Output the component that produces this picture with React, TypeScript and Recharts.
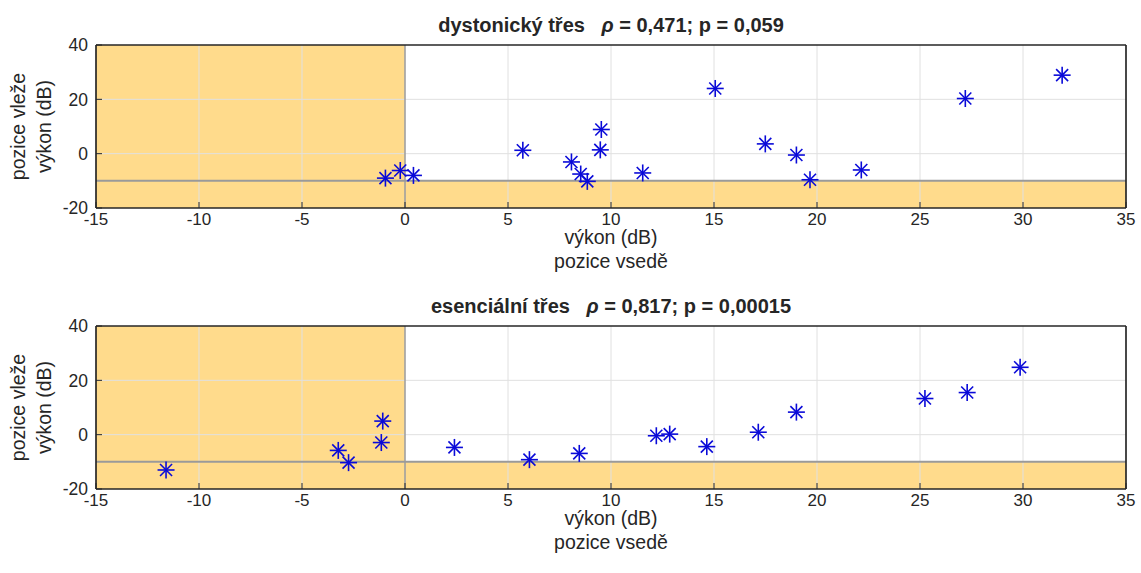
import {
	ScatterChart,
	Scatter,
	XAxis,
	YAxis,
	ReferenceArea,
	ReferenceLine,
	Label,
} from "recharts"

const xTicks = [-15, -10, -5, 0, 5, 10, 15, 20, 25, 30, 35]
const yTicks = [-20, 0, 20, 40]

const dystonicX = [-0.95, -0.23, 0.41, 5.72, 8.08, 8.53, 8.85, 9.53, 9.48, 11.54, 15.06, 17.49, 19.0, 19.66, 22.15, 27.2, 31.9]
const dystonicY = [-9.0, -6.2, -8.0, 1.25, -3.05, -7.5, -10.2, 8.9, 1.4, -7.1, 24.0, 3.6, -0.5, -9.6, -6.0, 20.3, 28.9]

const essentialX = [-11.6, -3.24, -2.74, -1.08, -1.15, 2.4, 6.04, 8.46, 12.2, 12.85, 14.65, 17.15, 19.0, 25.24, 27.29, 29.86]
const essentialY = [-13.0, -5.8, -10.3, 5.0, -2.9, -4.7, -9.2, -6.9, -0.4, 0.2, -4.4, 0.9, 8.3, 13.3, 15.5, 24.8]

const font = "'Liberation Sans', Arial, sans-serif"
const ink = "#262626"
const shade = "#FFDB8C"
const gridColor = "#e0e0e0"
const blue = "#0a0ad8"

const Asterisk = (props: any) => {
	const { cx, cy } = props
	if (cx == null || cy == null) return null
	const r = 8.5
	const d = 6
	return (
		<g stroke={blue} strokeWidth={1.6}>
			<line x1={cx - r} y1={cy} x2={cx + r} y2={cy} />
			<line x1={cx} y1={cy - r} x2={cx} y2={cy + r} />
			<line x1={cx - d} y1={cy - d} x2={cx + d} y2={cy + d} />
			<line x1={cx - d} y1={cy + d} x2={cx + d} y2={cy - d} />
		</g>
	)
}

const XLabel = (props: any) => {
	const vb = props.viewBox || {}
	const cx = vb.x + vb.width / 2
	return (
		<g fontFamily={font} fontSize={19.5} fill={ink} textAnchor="middle">
			<text x={cx} y={vb.y + 36}>výkon (dB)</text>
			<text x={cx} y={vb.y + 60}>pozice vsedě</text>
		</g>
	)
}

const YLabel = (props: any) => {
	const vb = props.viewBox || {}
	const cy = vb.y + vb.height / 2
	return (
		<g fontFamily={font} fontSize={19.5} fill={ink} textAnchor="middle">
			<text x={25} y={cy} transform={`rotate(-90 25 ${cy})`}>pozice vleže</text>
			<text x={51} y={cy} transform={`rotate(-90 51 ${cy})`}>výkon (dB)</text>
		</g>
	)
}

type PanelProps = {
	xs: number[]
	ys: number[]
	name: string
	rho: string
	p: string
	height: number
}

const Panel = ({ xs, ys, name, rho, p, height }: PanelProps) => {
	const points = xs.map((x, i) => ({ x, y: ys[i] }))
	return (
		<div style={{ position: "relative", width: 1141, height }}>
			<div
				style={{
					position: "absolute",
					left: 96,
					width: 1030,
					top: 14,
					height: 22,
					lineHeight: "22px",
					textAlign: "center",
					fontFamily: font,
					fontSize: 20,
					fontWeight: "bold",
					color: ink,
					whiteSpace: "pre",
				}}
			>
				{name}
				{"   "}
				<i>ρ</i>
				{` = ${rho}; p = ${p}`}
			</div>
			<ScatterChart
				width={1141}
				height={height}
				margin={{ top: 44, right: 14, bottom: 0, left: 0 }}
			>
				<ReferenceArea x1={-15} x2={0} y1={-20} y2={40} fill={shade} fillOpacity={1} stroke="none" />
				<ReferenceArea x1={0} x2={35} y1={-20} y2={-10} fill={shade} fillOpacity={1} stroke="none" />
				{xTicks.slice(1, -1).map((t) => (
					<ReferenceLine key={"gx" + t} x={t} stroke={gridColor} strokeWidth={1} />
				))}
				{yTicks.slice(1, -1).map((t) => (
					<ReferenceLine key={"gy" + t} y={t} stroke={gridColor} strokeWidth={1} />
				))}
				<ReferenceLine x={0} stroke="#8a8a8a" strokeWidth={1.2} />
				<ReferenceLine y={-10} stroke="#9a9a9a" strokeWidth={2} />
				<ReferenceLine x={-15} stroke={ink} strokeWidth={1.2} />
				<ReferenceLine x={35} stroke={ink} strokeWidth={1.2} />
				<ReferenceLine y={-20} stroke={ink} strokeWidth={1.2} />
				<ReferenceLine y={40} stroke={ink} strokeWidth={1.2} />
				<XAxis
					dataKey="x"
					type="number"
					domain={[-15, 35]}
					ticks={xTicks}
					allowDataOverflow
					height={height - 208}
					axisLine={{ stroke: ink, strokeWidth: 1.2 }}
					tickLine={{ stroke: ink }}
					tickSize={-6}
					tickMargin={11}
					fontSize={17}
					tick={{ fill: ink, fontSize: 17, fontFamily: font }}
				>
					<Label content={<XLabel />} />
				</XAxis>
				<XAxis
					xAxisId="top"
					orientation="top"
					dataKey="x"
					type="number"
					domain={[-15, 35]}
					ticks={xTicks}
					height={1}
					axisLine={{ stroke: ink, strokeWidth: 1.2 }}
					tickLine={{ stroke: ink }}
					tickSize={-6}
					tick={false}
				/>
				<YAxis
					dataKey="y"
					type="number"
					domain={[-20, 40]}
					ticks={yTicks}
					allowDataOverflow
					width={96}
					axisLine={{ stroke: ink, strokeWidth: 1.2 }}
					tickLine={{ stroke: ink }}
					tickSize={-6}
					tickMargin={14}
					fontSize={17.5}
					tick={{ fill: ink, fontSize: 17.5, fontFamily: font }}
				>
					<Label content={<YLabel />} />
				</YAxis>
				<YAxis
					yAxisId="right"
					orientation="right"
					dataKey="y"
					type="number"
					domain={[-20, 40]}
					ticks={yTicks}
					width={1}
					axisLine={{ stroke: ink, strokeWidth: 1.2 }}
					tickLine={{ stroke: ink }}
					tickSize={-6}
					tick={false}
				/>
				<Scatter data={points} shape={<Asterisk />} isAnimationActive={false} />
			</ScatterChart>
		</div>
	)
}

const App = () => {
	return (
		<div style={{ position: "absolute", left: 0, top: 0, width: 1141, height: 573, background: "#fff" }}>
			<Panel xs={dystonicX} ys={dystonicY} height={281} name="dystonický třes" rho="0,471" p="0,059" />
			<Panel xs={essentialX} ys={essentialY} height={292} name="esenciální třes" rho="0,817" p="0,00015" />
		</div>
	)
}

export default App
